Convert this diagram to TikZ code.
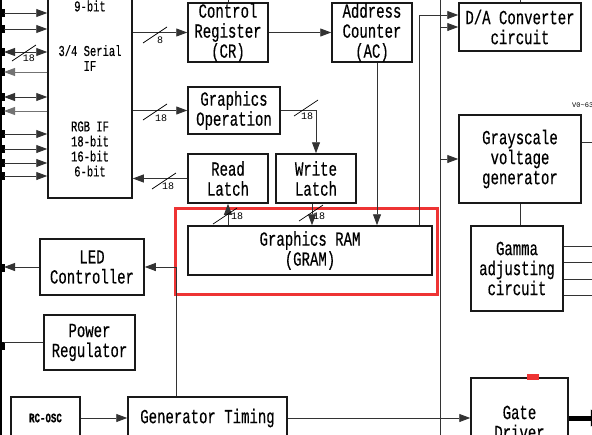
\documentclass[tikz,border=0pt]{standalone}
\usepackage{fontspec}
\newfontfamily\dfont[FakeStretch=0.70,FakeBold=0.4]{Liberation Mono}
\newfontfamily\lfont{Liberation Mono}
\usetikzlibrary{arrows.meta,fit,calc}
\definecolor{redbox}{RGB}{238,52,52}
\newcommand\bwslash[6]{\draw[line width=0.7pt] (#1,#2) ++(-12,8) -- ++(24,-16); \node[lab] (#6) at (#4,#5) {#3};}
\begin{document}
\begin{tikzpicture}[x=1pt,y=-1pt,
  blk/.style={draw=black!90, line width=1.5pt, inner sep=0pt},
  btxt/.style={align=center, inner sep=0pt, font=\dfont\fontsize{20}{20}\selectfont},
  txt/.style={align=center, inner sep=0pt, font=\dfont\fontsize{15}{15}\selectfont},
  lab/.style={inner sep=0pt, font=\lfont\fontsize{10}{10}\selectfont},
  con/.style={line width=0.9pt, draw=black!80},
  arr/.style={con, -{Triangle[length=11pt,width=8pt]}},
  darr/.style={con, {Triangle[length=11pt,width=8pt]}-{Triangle[length=11pt,width=8pt]}},
]
\useasboundingbox (0,0) rectangle (592,434);

% blocks
\node[blk, fit={(48,-20)(132,198)}] (ifc) {};
\node[txt] (t9) at (90,6) {9-bit};
\node[txt] (tser) at (90,58) {3/4 Serial\\IF};
\node[txt] (trgb) at (90,149) {RGB IF\\18-bit\\16-bit\\6-bit};

\node[blk, fit={(188,3)(268,62)}] (cr) {};
\node[btxt] (crt) at (cr.center) {Control\\Register\\(CR)};
\node[blk, fit={(332,3)(412,62)}] (ac) {};
\node[btxt] (act) at (ac.center) {Address\\Counter\\(AC)};
\node[blk, fit={(188,87)(280,134)}] (gop) {};
\node[btxt] (gopt) at (gop.center) {Graphics\\Operation};
\node[blk, fit={(188,154)(268,203)}] (rl) {};
\node[btxt] (rlt) at (rl.center) {Read\\Latch};
\node[blk, fit={(276,154)(356,203)}] (wl) {};
\node[btxt] (wlt) at (wl.center) {Write\\Latch};
\node[blk, fit={(188,226)(432,275)}] (gram) {};
\node[btxt] (gramt) at (gram.center) {Graphics RAM\\(GRAM)};
\node[blk, fit={(459,3)(581,51)}] (da) {};
\node[btxt] (dat) at (da.center) {D/A Converter\\circuit};
\node[blk, fit={(459,115)(581,203)}] (gv) {};
\node[btxt] (gvt) at (gv.center) {Grayscale\\voltage\\generator};
\node[blk, fit={(471,226)(563,311)}] (gamma) {};
\node[btxt] (gammat) at (gamma.center) {Gamma\\adjusting\\circuit};
\node[blk, fit={(40,239)(144,295)}] (led) {};
\node[btxt] (ledt) at (led.center) {LED\\Controller};
\node[blk, fit={(44,315)(135,370)}] (pw) {};
\node[btxt] (pwt) at (pw.center) {Power\\Regulator};
\node[blk, fit={(11,397)(80,439)}] (rc) {};
\node[btxt, font=\dfont\bfseries\fontsize{13}{13}\selectfont] (rct) at (45.5,418) {RC-OSC};
\node[blk, fit={(128,397)(287,439)}] (gt) {};
\node[btxt] (gtt) at (207.5,418) {Generator Timing};
\node[blk, fit={(471,378)(568,467)}] (gate) {};
\node[btxt] (gatet) at (519.5,422.5) {Gate\\Driver};
\node[draw=redbox, line width=3pt, fit={(175,208)(437,294)}, inner sep=0pt] (redbox) {};
\node[fill=redbox, inner sep=0pt, fit={(527,374)(539,380)}] (redmark) {};

% left bus
\draw[line width=2pt] (1,-5) -- (1,440);
\foreach \y in {13,29,52,72,97,111,134,149,163,176,268,346}
  \fill (0,\y-4) rectangle (5,\y+4);
\foreach \y [count=\i] in {13,29,52,72,97,111,134,149,163,176}
  \coordinate (b\i) at (4,\y);
\foreach \i in {1,2,7,8,9,10}
  \draw[arr] (b\i) -- (b\i -| ifc.west);
\foreach \i in {4,6}
  \draw[arr, draw=black!55] (b\i -| ifc.west) -- (b\i);
\foreach \i in {3,5}
  \draw[darr] (b\i) -- (b\i -| ifc.west);
\bwslash{24}{53}{18}{29}{58}{l1}

% interface connections
\draw[arr] (ifc.east |- cr.west) -- (cr.west);
\bwslash{155}{35}{8}{160}{40}{l2}
\draw[arr] (ifc.east |- gop.west) -- (gop.west);
\bwslash{155}{112}{18}{161}{118}{l3}
\draw[arr] (rl.west) -- (rl.west -| ifc.east);
\bwslash{164}{181}{18}{168}{186}{l4}

% core connections
\draw[arr] (cr.east) -- (ac.west);
\draw[arr] (gop.east) -| (wl.north);
\bwslash{306}{108}{18}{307}{116}{l5}
\draw[arr] (rl.south |- gram.north) -- (rl.south);
\bwslash{225}{216}{18}{237}{216}{l6}
\draw[arr] ([xshift=-4pt]wl.south) -- ([xshift=-4pt]wl.south |- gram.north);
\bwslash{311}{213}{18}{319}{216}{l7}
\draw[arr] ([xshift=5pt]ac.south) -- ([xshift=5pt]ac.south |- gram.north);
\draw[arr] ([xshift=-13pt]gram.north east) |- ([yshift=12pt]da.west);

% top ticks
\draw[con] (cr.north) -- ++(0,-6);
\draw[con] (da.north) -- ++(0,-6);

% long vertical line
\coordinate (vt) at (440,-5);
\coordinate (vb) at (440,440);
\draw[con] (vt) -- (vb);
\draw[arr] (vt |- da.west) -- (da.west);
\draw[arr] (vt |- gv.west) -- (gv.west);

% grayscale / gamma
\draw[con] (gv.south) -- (gv.south |- gamma.north);
\draw[con] ([yshift=17pt]gv.east) -- ++(40,0);
\foreach \s in {22.5,6.5,-10.5,-26.5}
  \draw[con] ([yshift=\s pt]gamma.east) -- ++(40,0);
\node[lab, anchor=west, font=\lfont\fontsize{7}{7}\selectfont] (v063) at (572,105) {V0\textasciitilde63};

% LED, power, timing
\draw[arr] ([xshift=49pt]gt.north west) |- (led.east);
\draw[arr] (led.west) -- (led.west -| b1);
\draw[con] (pw.west) -- (pw.west -| b1);
\draw[arr] (rc.east) -- (gt.west);
\draw[arr] (gt.east) -- (gt.east -| gate.west);
\draw[line width=5pt, -{Triangle[length=14pt,width=16pt]}] (gate.east |- gt.east) -- ++(36,0);
\end{tikzpicture}
\end{document}
